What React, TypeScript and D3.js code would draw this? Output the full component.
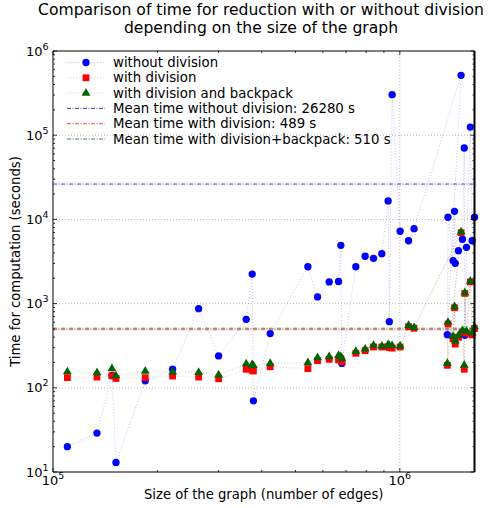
import React, { useEffect, useRef } from "react";
import * as d3 from "d3";

// number of edges of each graph, in the order the runs were made
const edges = [
  1.10e5, 1.339e5, 1.479e5, 1.519e5, 1.845e5, 2.213e5, 2.63e5, 3.003e5, 3.606e5, 3.753e5,
  3.783e5, 4.229e5, 5.431e5, 5.791e5, 6.257e5, 6.658e5, 6.761e5, 6.806e5, 7.468e5, 7.943e5,
  8.398e5, 8.874e5, 9.254e5, 9.327e5, 9.502e5, 1.002e6, 1.06e6, 1.099e6, 1.502e6, 1.371e6,
  1.377e6, 1.424e6, 1.438e6, 1.445e6, 1.476e6, 1.516e6, 1.534e6, 1.54e6, 1.557e6, 1.597e6,
  1.616e6, 1.642e6,
];

const withoutDivision = [
  20, 29, 140, 13, 121, 166, 870, 239, 650, 2240,
  70, 440, 2740, 1200, 1810, 1830, 4920, 195, 2740, 3650,
  3450, 3920, 16560, 610, 303000, 7230, 5580, 7760, 514000, 427,
  10600, 3240, 12470, 3010, 4250, 5810, 70500, 420, 4660, 125000,
  5580, 10600,
];

const withDivision = [
  132, 134, 139, 129, 132, 138, 134, 128, 166, 162,
  158, 178, 169, 210, 218, 214, 222, 204, 257, 276,
  305, 305, 308, 300, 296, 305, 532, 509, 6950, 185,
  572, 383, 893, 331, 398, 460, 166, 1320, 444, 1810,
  424, 505,
];

const withBackpack = [
  155, 151, 169, 139, 158, 154, 152, 142, 193, 188,
  184, 195, 199, 228, 234, 243, 235, 222, 271, 289,
  320, 312, 325, 318, 318, 315, 552, 520, 7100, 195,
  600, 410, 920, 360, 420, 480, 186, 1350, 470, 1850,
  450, 530,
];

const meanWithout = 26280;
const meanWith = 489;
const meanBackpack = 510;

const yTickExps = [1, 2, 3, 4, 5, 6];
const xTickExps = [5, 6];

const BLUE = "#0000ff";
const RED = "#ff0000";
const GREEN = "#006400";
const FONT = "DejaVu Sans, sans-serif";

const App = () => {
  const svgRef = useRef<SVGSVGElement>(null);

  useEffect(() => {
    const svg = d3.select(svgRef.current);
    svg.selectAll("*").remove();

    const W = 489;
    const H = 508;
    const margin = { top: 51, right: 14.5, bottom: 36, left: 53 };
    const innerW = W - margin.left - margin.right;
    const innerH = H - margin.top - margin.bottom;

    const x = d3.scaleLog().domain([1e5, 1.642e6]).range([margin.left, margin.left + innerW]);
    const y = d3.scaleLog().domain([10, 1e6]).range([margin.top + innerH, margin.top]);

    svg.append("rect").attr("width", W).attr("height", H).attr("fill", "white");

    // grid at major ticks
    const grid = svg.append("g").attr("stroke", "#aaa").attr("stroke-width", 0.8).attr("stroke-dasharray", "1,2");
    yTickExps.slice(1, -1).forEach((e) => {
      grid.append("line")
        .attr("x1", margin.left).attr("x2", margin.left + innerW)
        .attr("y1", y(10 ** e)).attr("y2", y(10 ** e));
    });
    grid.append("line")
      .attr("x1", x(1e6)).attr("x2", x(1e6))
      .attr("y1", margin.top).attr("y2", margin.top + innerH);

    // mean lines
    const means = [
      { v: meanWithout, c: BLUE },
      { v: meanWith, c: RED },
      { v: meanBackpack, c: GREEN },
    ];
    means.forEach((m) => {
      svg.append("line")
        .attr("x1", margin.left).attr("x2", margin.left + innerW)
        .attr("y1", y(m.v)).attr("y2", y(m.v))
        .attr("stroke", m.c).attr("stroke-width", 1).attr("opacity", 0.75)
        .attr("stroke-dasharray", "4,1.5,1,1.5");
    });

    const series = [
      { vals: withoutDivision, c: BLUE, shape: "circle" },
      { vals: withDivision, c: RED, shape: "square" },
      { vals: withBackpack, c: GREEN, shape: "triangle" },
    ];

    const symbolFor = (shape: string) =>
      shape === "circle"
        ? d3.symbol(d3.symbolCircle, 42)
        : shape === "square"
        ? d3.symbol(d3.symbolSquare, 46)
        : d3.symbol(d3.symbolTriangle, 34);

    const line = d3.line<number>().x((d, i) => x(edges[i]));

    series.forEach((s) => {
      svg.append("path")
        .attr("d", line.y((d) => y(d))(s.vals))
        .attr("fill", "none").attr("stroke", s.c)
        .attr("stroke-width", 0.7).attr("opacity", 0.35)
        .attr("stroke-dasharray", "1,2");
    });

    series.forEach((s) => {
      svg.append("g")
        .selectAll("path")
        .data(s.vals)
        .join("path")
        .attr("d", symbolFor(s.shape) as any)
        .attr("transform", (d, i) => `translate(${x(edges[i])},${y(d)})`)
        .attr("fill", s.c);
    });

    // spines
    const frame = svg.append("g").attr("stroke", "black").attr("fill", "none");
    frame.append("line").attr("x1", margin.left).attr("x2", margin.left).attr("y1", margin.top).attr("y2", margin.top + innerH).attr("stroke-width", 1);
    frame.append("line").attr("x1", margin.left + innerW).attr("x2", margin.left + innerW).attr("y1", margin.top).attr("y2", margin.top + innerH).attr("stroke-width", 2);
    frame.append("line").attr("x1", margin.left).attr("x2", margin.left + innerW).attr("y1", margin.top).attr("y2", margin.top).attr("stroke-width", 1);
    frame.append("line").attr("x1", margin.left).attr("x2", margin.left + innerW).attr("y1", margin.top + innerH).attr("y2", margin.top + innerH).attr("stroke-width", 1);

    // ticks, inward on all four sides
    const ticks = svg.append("g").attr("stroke", "black").attr("stroke-width", 0.8);
    const yTicks: { v: number; len: number }[] = [];
    for (let e = 1; e <= 6; e++) {
      yTicks.push({ v: 10 ** e, len: 4 });
      if (e < 6) for (let k = 2; k <= 9; k++) yTicks.push({ v: k * 10 ** e, len: 2 });
    }
    yTicks.forEach((t) => {
      const yy = y(t.v);
      ticks.append("line").attr("x1", margin.left).attr("x2", margin.left + t.len).attr("y1", yy).attr("y2", yy);
      ticks.append("line").attr("x1", margin.left + innerW).attr("x2", margin.left + innerW - t.len).attr("y1", yy).attr("y2", yy);
    });
    const xTicks: { v: number; len: number }[] = [];
    for (let k = 1; k <= 9; k++) xTicks.push({ v: k * 1e5, len: k === 1 ? 4 : 2 });
    xTicks.push({ v: 1e6, len: 4 });
    xTicks.forEach((t) => {
      const xx = x(t.v);
      ticks.append("line").attr("x1", xx).attr("x2", xx).attr("y1", margin.top + innerH).attr("y2", margin.top + innerH - t.len);
      ticks.append("line").attr("x1", xx).attr("x2", xx).attr("y1", margin.top).attr("y2", margin.top + t.len);
    });

    // tick labels
    const labels = svg.append("g").attr("font-family", FONT).attr("fill", "black");
    yTickExps.forEach((e) => {
      const t = labels.append("text")
        .attr("x", margin.left - 4.5).attr("y", y(10 ** e) + 4.5)
        .attr("text-anchor", "end").attr("font-size", 13);
      t.append("tspan").text("10");
      t.append("tspan").attr("dy", -6).attr("font-size", 9.5).text(String(e));
    });
    xTickExps.forEach((e) => {
      const t = labels.append("text")
        .attr("x", x(10 ** e)).attr("y", margin.top + innerH + 12.5)
        .attr("text-anchor", "middle").attr("font-size", 13);
      t.append("tspan").text("10");
      t.append("tspan").attr("dy", -6).attr("font-size", 9.5).text(String(e));
    });

    // axis titles
    labels.append("text")
      .attr("x", margin.left + innerW / 2).attr("y", 499)
      .attr("text-anchor", "middle").attr("font-size", 13.2)
      .text("Size of the graph (number of edges)");
    labels.append("text")
      .attr("transform", `translate(20,${margin.top + innerH / 2}) rotate(-90)`)
      .attr("text-anchor", "middle").attr("font-size", 13.2)
      .text("Time for computation (seconds)");

    // title
    const title = labels.append("text").attr("text-anchor", "middle").attr("font-size", 15.6);
    title.append("tspan").attr("x", 261).attr("y", 15)
      .text("Comparison of time for reduction with or without division");
    title.append("tspan").attr("x", 261).attr("y", 33)
      .text("depending on the size of the graph");

    // legend
    const legendItems = [
      { label: "without division", c: BLUE, shape: "circle" },
      { label: "with division", c: RED, shape: "square" },
      { label: "with division and backpack", c: GREEN, shape: "triangle" },
      { label: `Mean time without division: ${meanWithout} s`, c: BLUE, shape: "" },
      { label: `Mean time with division: ${meanWith} s`, c: RED, shape: "" },
      { label: `Mean time with division+backpack: ${meanBackpack} s`, c: GREEN, shape: "" },
    ];
    const lg = svg.append("g");
    legendItems.forEach((it, i) => {
      const yy = 62.5 + i * 15.3;
      const g = lg.append("g").attr("transform", `translate(0,${yy})`);
      if (it.shape) {
        g.append("line").attr("x1", 67).attr("x2", 105).attr("y1", 0).attr("y2", 0)
          .attr("stroke", it.c).attr("stroke-width", 0.7).attr("opacity", 0.35).attr("stroke-dasharray", "1,2");
        g.append("path").attr("d", symbolFor(it.shape) as any)
          .attr("transform", "translate(86,0)").attr("fill", it.c);
      } else {
        g.append("line").attr("x1", 67).attr("x2", 105).attr("y1", 0).attr("y2", 0)
          .attr("stroke", it.c).attr("stroke-width", 1).attr("opacity", 0.75)
          .attr("stroke-dasharray", "4,1.5,1,1.5");
      }
      g.append("text").attr("x", 113).attr("y", 4.6)
        .attr("font-family", FONT).attr("font-size", 13.3).text(it.label);
    });
  }, []);

  return (
    <svg
      ref={svgRef}
      width={489}
      height={508}
      style={{ position: "absolute", left: 0, top: 0 }}
    ></svg>
  );
};

export default App;
